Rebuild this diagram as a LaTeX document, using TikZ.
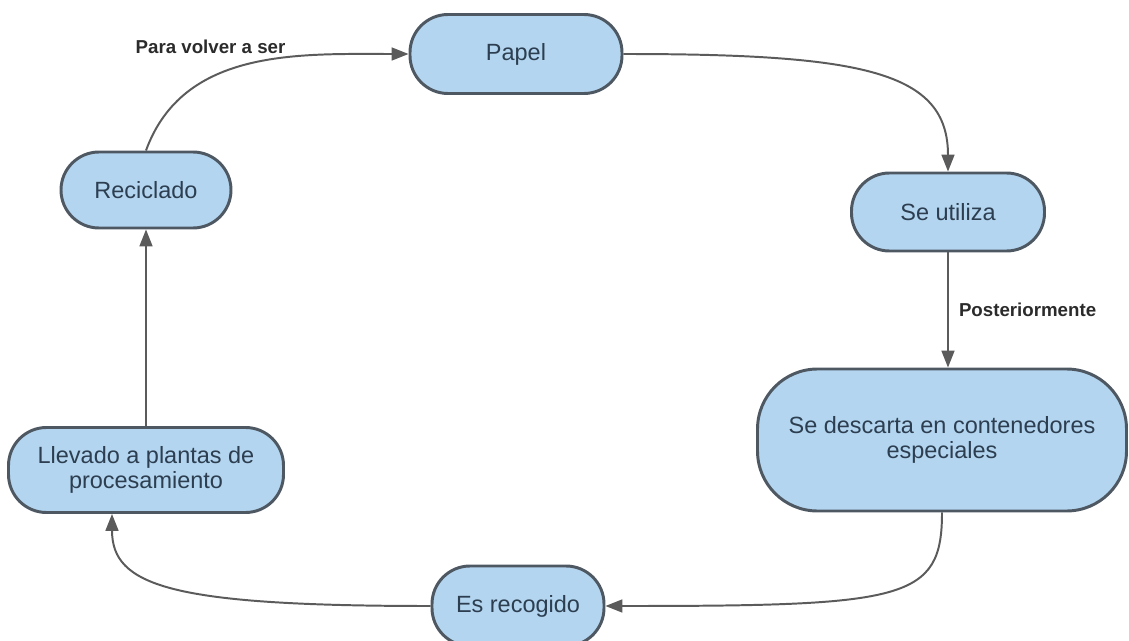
\documentclass[tikz,border=0pt]{standalone}
\usepackage{fontspec}
\setmainfont{Liberation Sans}
\usepackage{tikz}
\usetikzlibrary{arrows.meta}
\definecolor{cycleFill}{HTML}{B3D5EF}
\definecolor{cycleDraw}{HTML}{4E5862}
\definecolor{cycleText}{HTML}{2C3E50}
\definecolor{lineGray}{HTML}{5B5B5B}
\definecolor{labelText}{HTML}{2B2B2B}
\tikzstyle{fStage} = [rectangle, rounded corners=0.95cm, minimum width=5cm, minimum height=1.9cm, align=center, inner sep=2pt, draw=cycleDraw, line width=2.1pt, fill=cycleFill, text=cycleText, font=\fontsize{16.7}{17.5}\selectfont]
\tikzstyle{fLabel} = [font=\bfseries\fontsize{13.3}{15}\selectfont, text=labelText, inner sep=2pt]
\tikzstyle{fArrow} = [line width=1.4pt, draw=lineGray, -{Triangle[length=0.42cm, width=0.32cm]}]
\begin{document}
\begin{tikzpicture}[node distance=2cm]
    \useasboundingbox (0,0) rectangle (28.225,-16.025);
    \node (papel) [fStage, minimum width=5.3cm, minimum height=1.975cm] at (12.9,-1.35) {Papel};
    \node (seUtiliza) [fStage, right of=papel, xshift=8.8cm, yshift=-3.95cm, minimum width=4.825cm, minimum height=1.95cm] {Se utiliza};
    \node (seDescarta) [fStage, below of=seUtiliza, xshift=-0.15cm, yshift=-3.7cm, minimum width=9.225cm, minimum height=3.55cm, rounded corners=1.5cm] {Se descarta en contenedores\\especiales};
    \node (esRecogido) [fStage, below of=seDescarta, xshift=-10.6cm, yshift=-2.15cm, minimum width=4.3cm, minimum height=2cm] {Es recogido};
    \node (llevado) [fStage, left of=esRecogido, xshift=-7.3cm, yshift=3.4cm, minimum width=6.875cm, minimum height=2.125cm] {Llevado a plantas de\\procesamiento};
    \node (reciclado) [fStage, above of=llevado, yshift=5cm, minimum width=4.25cm, minimum height=1.9cm] {Reciclado};

    \draw [fArrow] (reciclado.north) to[out=70, in=180] node[fLabel, pos=0.3, xshift=0.3cm, yshift=0.95cm] {Para volver a ser} (papel.west);
    \draw [fArrow] (papel.east) to[out=0, in=90, out distance=6cm, in distance=2.5cm] (seUtiliza.north);
    \draw [fArrow] (seUtiliza.south) -- node[fLabel, right, xshift=0.18cm] {Posteriormente} (seUtiliza.south |- seDescarta.north);
    \draw [fArrow] (seDescarta.south) to[out=-90, in=0, out distance=2.2cm, in distance=7.5cm] (esRecogido.east);
    \draw [fArrow] (esRecogido.west) to[out=180, in=-90, out distance=6.5cm, in distance=1.8cm] ([xshift=-0.85cm]llevado.south);
    \draw [fArrow] (llevado) -- (reciclado);
\end{tikzpicture}
\end{document}
